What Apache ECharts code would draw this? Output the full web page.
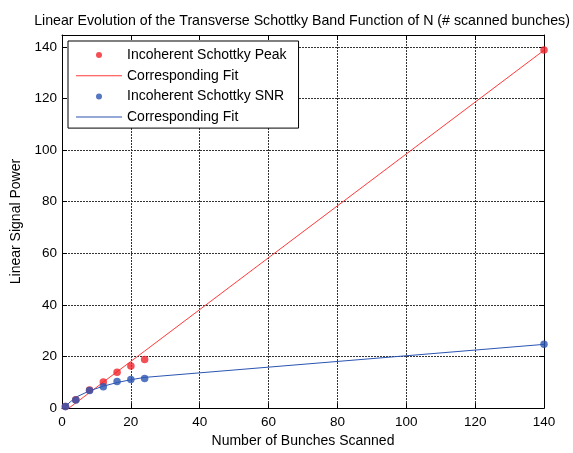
<!DOCTYPE html>
<html>
<head>
<meta charset="utf-8">
<script src="https://cdn.jsdelivr.net/npm/echarts@6/dist/echarts.min.js"></script>
<style>
html,body{margin:0;padding:0;background:#fff;}
#c{width:573px;height:453px;}
</style>
</head>
<body>
<div id="c"></div>
<script>
const bunches = [1, 4, 8, 12, 16, 20, 24, 140];
const peak = [0.6, 3.2, 7.0, 10.1, 13.9, 16.3, 18.8, 138.8];
const peakFit = [-1.0, 2.0, 6.0, 10.1, 14.1, 18.1, 22.1, 138.7];
const snr = [0.6, 3.1, 6.8, 8.3, 10.3, 11.1, 11.5, 24.7];
const snrFit = [0.8, 4.2, 6.7, 8.5, 9.9, 11.0, 11.9, 24.7];
const xTicks = [0, 20, 40, 60, 80, 100, 120, 140];
const yTicks = [0, 20, 40, 60, 80, 100, 120, 140];

const FONT = '"Liberation Sans", Arial, sans-serif';
const RED = '#f0232b';
const RED_LINE = '#ff3a3a';
const BLUE = '#2a55b2';
const LINE_ICON = 'path://M0,0H46V1H0Z';
const pair = (ys) => bunches.map((x, i) => [x, ys[i]]);

const chart = echarts.init(document.getElementById('c'), null, {renderer: 'canvas'});

const gridLine = {show: true, lineStyle: {color: '#333', width: 1, type: [2, 1]}};
const baseLabel = {color: '#000', fontFamily: FONT, fontSize: 13.5};

chart.setOption({
  backgroundColor: '#fff',
  animation: false,
  title: {
    text: 'Linear Evolution of the Transverse Schottky Band Function of N (# scanned bunches)',
    left: 297, top: 9, textAlign: 'center',
    textStyle: {fontFamily: FONT, fontSize: 14.2, fontWeight: 'normal', color: '#000'}
  },
  grid: {left: 62, right: 29, top: 35, bottom: 39, containLabel: false},
  legend: {
    orient: 'vertical', left: 68, top: 41,
    backgroundColor: '#fff', borderColor: '#000', borderWidth: 1,
    padding: [7, 12, 4, 8],
    itemWidth: 46, itemHeight: 6, itemGap: 6.7,
    textStyle: {fontFamily: FONT, fontSize: 14, color: '#000'},
    data: [
      {name: 'Incoherent Schottky Peak', icon: 'circle'},
      {name: 'Corresponding Fit', icon: LINE_ICON, itemStyle: {color: RED_LINE}},
      {name: 'Incoherent Schottky SNR', icon: 'circle'},
      {name: 'Corresponding Fit ', icon: LINE_ICON, itemStyle: {color: BLUE}}
    ]
  },
  xAxis: [{
    type: 'value', min: xTicks[0], max: xTicks[xTicks.length - 1], interval: 20,
    name: 'Number of Bunches Scanned', nameLocation: 'middle', nameGap: 25,
    nameTextStyle: {fontFamily: FONT, fontSize: 14, color: '#000'},
    axisLine: {show: true, onZero: false, lineStyle: {color: '#000', width: 1}},
    axisTick: {show: true, inside: true, length: 5, lineStyle: {color: '#000'}},
    axisLabel: Object.assign({margin: 7}, baseLabel),
    splitLine: gridLine
  }, {
    type: 'value', position: 'top', min: xTicks[0], max: xTicks[xTicks.length - 1], interval: 20,
    axisLine: {show: true, onZero: false, lineStyle: {color: '#000', width: 1}},
    axisTick: {show: true, inside: true, length: 5, lineStyle: {color: '#000'}},
    axisLabel: {show: false}, splitLine: {show: false}
  }],
  yAxis: [{
    type: 'value', min: yTicks[0], max: 144.6, interval: 20,
    name: 'Linear Signal Power', nameLocation: 'middle', nameGap: 34, nameRotate: 90,
    nameTextStyle: {fontFamily: FONT, fontSize: 14, color: '#000'},
    axisLine: {show: true, onZero: false, lineStyle: {color: '#000', width: 1}},
    axisTick: {show: true, inside: true, length: 5, lineStyle: {color: '#000'}},
    axisLabel: Object.assign({margin: 5, showMaxLabel: false}, baseLabel),
    splitLine: gridLine
  }, {
    type: 'value', position: 'right', min: yTicks[0], max: 144.6, interval: 20,
    axisLine: {show: true, onZero: false, lineStyle: {color: '#000', width: 1}},
    axisTick: {show: true, inside: true, length: 5, lineStyle: {color: '#000'}},
    axisLabel: {show: false}, splitLine: {show: false}
  }],
  series: [
    {
      name: 'Incoherent Schottky Peak', type: 'scatter', data: pair(peak),
      symbol: 'circle', symbolSize: 7.5, itemStyle: {color: RED}, z: 3
    },
    {
      name: 'Corresponding Fit', type: 'line', data: pair(peakFit),
      showSymbol: false, symbol: 'none', clip: true,
      lineStyle: {color: RED_LINE, width: 1}, itemStyle: {color: RED_LINE}, z: 2
    },
    {
      name: 'Incoherent Schottky SNR', type: 'scatter', data: pair(snr),
      symbol: 'circle', symbolSize: 7.5, itemStyle: {color: BLUE}, z: 4
    },
    {
      name: 'Corresponding Fit ', type: 'line', data: pair(snrFit),
      showSymbol: false, symbol: 'none', clip: true,
      lineStyle: {color: BLUE, width: 1}, itemStyle: {color: BLUE}, z: 2
    }
  ]
});
</script>
</body>
</html>
